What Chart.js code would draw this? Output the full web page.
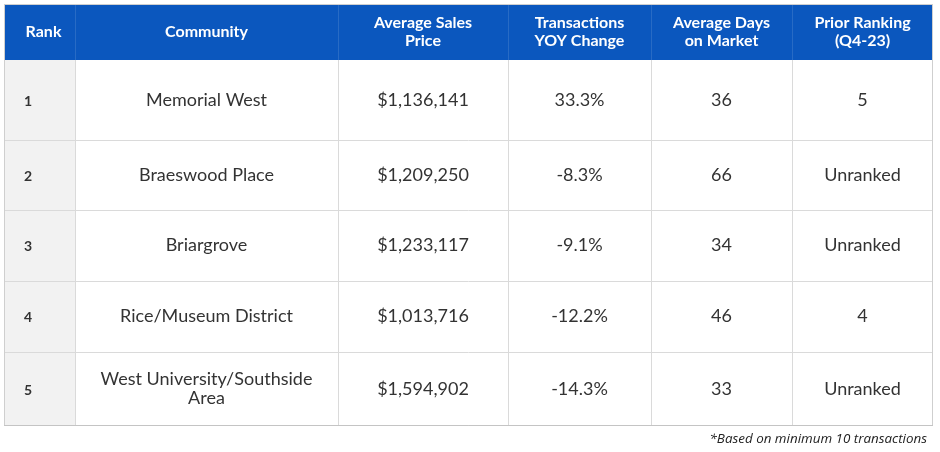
<!DOCTYPE html>
<html lang="en">
<head>
  <meta charset="UTF-8">
  <title>Top Communities</title>
  <script src="https://cdn.jsdelivr.net/npm/chart.js"></script>
  <style>
    html, body {
      margin: 0;
      padding: 0;
      background: #ffffff;
      overflow: hidden;
    }
    .chart-box {
      position: relative;
      width: 940px;
      height: 452px;
    }
  </style>
</head>
<body>
  <div class="chart-box">
    <canvas id="rankTable"></canvas>
  </div>

  <script>
    // table data
    const headers = [
      ['Rank'],
      ['Community'],
      ['Average Sales', 'Price'],
      ['Transactions', 'YOY Change'],
      ['Average Days', 'on Market'],
      ['Prior Ranking', '(Q4-23)']
    ];
    const ranks = [1, 2, 3, 4, 5];
    const communities = [
      ['Memorial West'],
      ['Braeswood Place'],
      ['Briargrove'],
      ['Rice/Museum District'],
      ['West University/Southside', 'Area']
    ];
    const avgSalesPrice = [1136141, 1209250, 1233117, 1013716, 1594902];
    const yoyChange = [33.3, -8.3, -9.1, -12.2, -14.3];
    const daysOnMarket = [36, 66, 34, 46, 33];
    const priorRanking = [5, null, null, 4, null];
    const footnote = '*Based on minimum 10 transactions';

    // layout (in scale units)
    const colEdges = [4, 75, 338, 508, 651, 792, 933];
    const rowEdges = [4, 60, 140, 210, 281, 352, 426];

    const BLUE = '#0B57BE';
    const GRID = '#dadada';
    const TEXT = '#333333';

    function cellText(col, i) {
      switch (col) {
        case 0: return [String(ranks[i])];
        case 1: return communities[i];
        case 2: return ['$' + avgSalesPrice[i].toLocaleString('en-US')];
        case 3: return [yoyChange[i].toFixed(1) + '%'];
        case 4: return [String(daysOnMarket[i])];
        case 5: return [priorRanking[i] == null ? 'Unranked' : String(priorRanking[i])];
      }
    }

    const tablePlugin = {
      id: 'tablePlugin',
      afterDraw(chart) {
        const ctx = chart.ctx;
        const xs = chart.scales.x;
        const ys = chart.scales.y;
        const X = v => xs.getPixelForValue(v);
        const Y = v => ys.getPixelForValue(v);
        const left = X(colEdges[0]), right = X(colEdges[colEdges.length - 1]);
        const top = Y(rowEdges[0]), bottom = Y(rowEdges[rowEdges.length - 1]);

        ctx.save();
        // header band
        ctx.fillStyle = BLUE;
        ctx.fillRect(left, top, right - left, Y(rowEdges[1]) - top);
        // rank column shading
        ctx.fillStyle = '#f2f2f2';
        ctx.fillRect(left, Y(rowEdges[1]), X(colEdges[1]) - left, bottom - Y(rowEdges[1]));

        // grid lines
        ctx.lineWidth = 1;
        for (let r = 2; r < rowEdges.length - 1; r++) {
          ctx.strokeStyle = GRID;
          ctx.beginPath();
          ctx.moveTo(left, Y(rowEdges[r]) + 0.5);
          ctx.lineTo(right, Y(rowEdges[r]) + 0.5);
          ctx.stroke();
        }
        for (let c = 1; c < colEdges.length - 1; c++) {
          const x = Math.round(X(colEdges[c])) + 0.5;
          ctx.strokeStyle = GRID;
          ctx.beginPath();
          ctx.moveTo(x, Y(rowEdges[1]));
          ctx.lineTo(x, bottom);
          ctx.stroke();
          ctx.strokeStyle = 'rgba(255,255,255,0.12)';
          ctx.beginPath();
          ctx.moveTo(x, top);
          ctx.lineTo(x, Y(rowEdges[1]));
          ctx.stroke();
        }
        // outer border
        ctx.strokeStyle = '#cfcfcf';
        ctx.strokeRect(left + 0.5, top + 0.5, right - left - 1, bottom - top - 1);
        ctx.strokeStyle = '#c4c4c4';
        ctx.beginPath();
        ctx.moveTo(left, bottom - 0.5);
        ctx.lineTo(right, bottom - 0.5);
        ctx.stroke();

        // header text
        ctx.fillStyle = '#ffffff';
        ctx.font = 'bold 16px Lato';
        ctx.textBaseline = 'middle';
        ctx.textAlign = 'center';
        const hMid = (Y(rowEdges[0]) + Y(rowEdges[1])) / 2;
        headers.forEach((lines, c) => {
          // rank header sits a little right of its column centre
          const shift = c === 0 ? 4 : 0;
          const cx = (X(colEdges[c]) + X(colEdges[c + 1])) / 2 + shift;
          const lh = 18;
          lines.forEach((t, k) => {
            ctx.fillText(t, cx, hMid + (k - (lines.length - 1) / 2) * lh);
          });
        });

        // body cells
        ranks.forEach((_, i) => {
          const mid = (Y(rowEdges[i + 1]) + Y(rowEdges[i + 2])) / 2;
          for (let c = 0; c < headers.length; c++) {
            const lines = cellText(c, i);
            ctx.fillStyle = TEXT;
            if (c === 0) {
              ctx.font = 'bold 14px Lato';
              ctx.textAlign = 'left';
              lines.forEach(t => ctx.fillText(t, X(colEdges[0]) + 20, mid + 1));
            } else {
              ctx.font = '18px Lato';
              ctx.textAlign = 'center';
              const cx = (X(colEdges[c]) + X(colEdges[c + 1])) / 2;
              const lh = 19;
              lines.forEach((t, k) => {
                ctx.fillText(t, cx, mid + (k - (lines.length - 1) / 2) * lh);
              });
            }
          }
        });

        // footnote
        ctx.font = 'italic 13.4px "Open Sans"';
        ctx.fillStyle = '#222222';
        ctx.textAlign = 'right';
        ctx.fillText(footnote, X(927), Y(439));
        ctx.restore();
      }
    };

    new Chart(document.getElementById('rankTable'), {
      type: 'scatter',
      data: { datasets: [] },
      options: {
        responsive: true,
        maintainAspectRatio: false,
        animation: false,
        layout: { padding: 0 },
        plugins: {
          legend: { display: false },
          tooltip: { enabled: false }
        },
        scales: {
          x: { type: 'linear', min: 0, max: 940, display: false },
          y: { type: 'linear', min: 0, max: 452, reverse: true, display: false }
        }
      },
      plugins: [tablePlugin]
    });
  </script>
</body>
</html>
